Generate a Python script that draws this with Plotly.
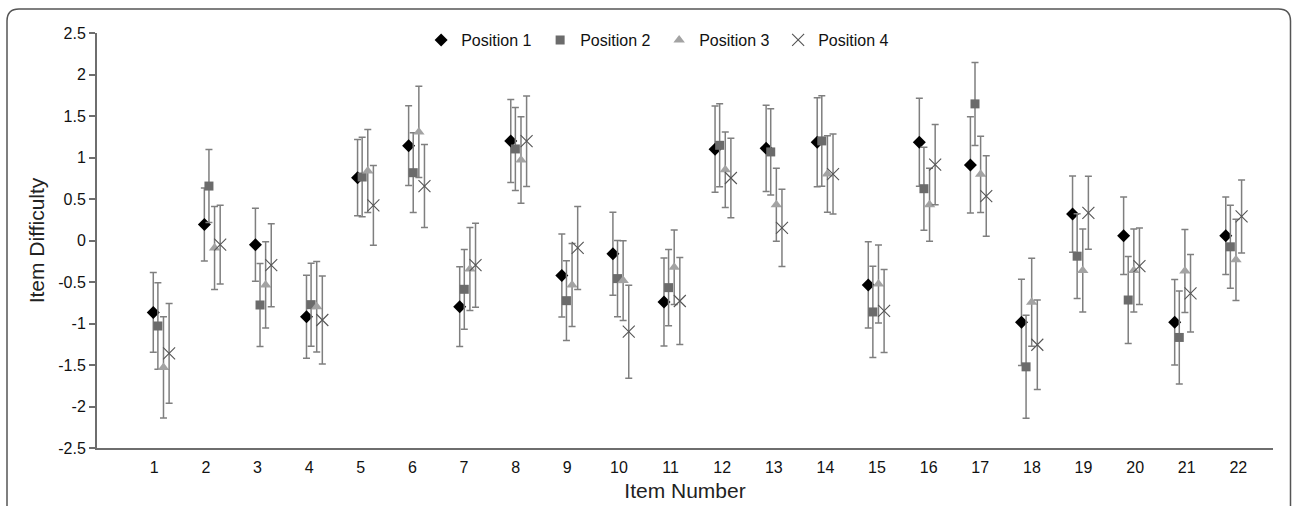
import plotly.graph_objects as go

# ---------------- data ----------------
items = list(range(1, 23))
x_ticktext = [str(i) for i in items]

y_tickvals = [2.5, 2, 1.5, 1, 0.5, 0, -0.5, -1, -1.5, -2, -2.5]
y_ticktext = ["2.5", "2", "1.5", "1", "0.5", "0", "-0.5", "-1", "-1.5", "-2", "-2.5"]

series_names = ["Position 1", "Position 2", "Position 3", "Position 4"]

pos1 = [-0.866, 0.193, -0.05, -0.918, 0.757, 1.143, -0.797, 1.2, -0.423, -0.161, -0.741,
        1.10, 1.111, 1.184, -0.535, 1.184, 0.91, -0.986, 0.318, 0.056, -0.986, 0.056]
pos1_err = [0.48, 0.44, 0.44, 0.5, 0.46, 0.48, 0.48, 0.5, 0.5, 0.5, 0.53,
            0.52, 0.52, 0.535, 0.52, 0.53, 0.58, 0.52, 0.46, 0.467, 0.515, 0.467]

pos2 = [-1.03, 0.656, -0.777, -0.773, 0.765, 0.817, -0.588, 1.103, -0.725, -0.459, -0.568,
        1.147, 1.067, 1.2, -0.861, 0.624, 1.646, -1.522, -0.189, -0.717, -1.168, -0.076]
pos2_err = [0.52, 0.44, 0.5, 0.5, 0.48, 0.48, 0.48, 0.5, 0.48, 0.46, 0.46,
            0.5, 0.52, 0.545, 0.55, 0.5, 0.5, 0.62, 0.51, 0.525, 0.56, 0.5]

pos3 = [-1.53, -0.09, -0.535, -0.797, 0.837, 1.308, -0.342, 0.97, -0.535, -0.483, -0.322,
        0.853, 0.431, 0.801, -0.523, 0.431, 0.797, -0.745, -0.362, -0.362, -0.366, -0.233]
pos3_err = [0.61, 0.5, 0.52, 0.545, 0.5, 0.55, 0.5, 0.52, 0.5, 0.48, 0.45,
            0.455, 0.44, 0.46, 0.47, 0.44, 0.46, 0.53, 0.5, 0.5, 0.5, 0.49]

pos4 = [-1.36, -0.05, -0.298, -0.958, 0.423, 0.656, -0.298, 1.196, -0.09, -1.099, -0.729,
        0.753, 0.153, 0.801, -0.849, 0.914, 0.535, -1.256, 0.334, -0.31, -0.636, 0.29]
pos4_err = [0.6, 0.475, 0.5, 0.53, 0.48, 0.5, 0.505, 0.545, 0.5, 0.56, 0.525,
            0.48, 0.465, 0.483, 0.5, 0.483, 0.485, 0.54, 0.44, 0.46, 0.467, 0.44]

# ---------------- styling ----------------
FONT = "Liberation Sans, Arial, sans-serif"
offsets = [0.0, 0.09, 0.2, 0.31]          # horizontal dodge of the 4 positions
label_stretch = 0.0108                    # category labels drift slightly vs. markers
label_shift = 0.02

styles = [
    dict(symbol="diamond", color="#000000", size=10, line=dict(width=0)),
    dict(symbol="square", color="#6b6b6b", size=9, line=dict(width=0)),
    dict(symbol="triangle-up", color="#a3a3a3", size=10, line=dict(width=0)),
    dict(symbol="x-thin-open", color="#555555", size=12, line=dict(width=1.1, color="#555555")),
]

values = [pos1, pos2, pos3, pos4]
errors = [pos1_err, pos2_err, pos3_err, pos4_err]

fig = go.Figure()
for name, vals, errs, off, st in zip(series_names, values, errors, offsets, styles):
    fig.add_trace(go.Scatter(
        x=[i + off for i in items],
        y=vals,
        mode="markers",
        name=name,
        marker=st,
        error_y=dict(type="data", array=errs, visible=True,
                     color="#7f7f7f", thickness=1.5, width=3.5),
    ))

tickvals = [i + label_shift + (i - 1) * label_stretch for i in items]

W, H = 1292, 506
ml, mr, mt, mb = 97, 19, 33, 58
pw, ph = W - ml - mr, H - mt - mb


def px(xp):
    return (xp - ml) / pw


def py(yp):
    return (H - mb - yp) / ph


# rounded frame around the whole picture
L, T, R, B = 7, 9, 1290.5, 520
rx, ry = 12 / pw, 12 / ph
frame = (f"M {px(L)},{py(B)} L {px(L)},{py(T) - ry} Q {px(L)},{py(T)} {px(L) + rx},{py(T)} "
         f"L {px(R) - rx},{py(T)} Q {px(R)},{py(T)} {px(R)},{py(T) - ry} L {px(R)},{py(B)}")

fig.update_layout(
    width=W, height=H,
    margin=dict(l=ml, r=mr, t=mt, b=mb, autoexpand=False),
    paper_bgcolor="white", plot_bgcolor="white",
    font=dict(family=FONT, color="#111111"),
    showlegend=True,
    legend=dict(orientation="h", x=0.478, xanchor="center", y=0.983, yanchor="middle",
                font=dict(size=16, family=FONT, color="#111111"),
                bgcolor="rgba(0,0,0,0)", itemwidth=30, entrywidth=74, traceorder="normal"),
    xaxis=dict(range=[-0.102, 22.925], tickmode="array", tickvals=tickvals, ticktext=x_ticktext,
               automargin=False,
               showgrid=False, zeroline=False, showline=True, linecolor="#6e6e6e", linewidth=2,
               ticks="", tickfont=dict(size=16, family=FONT, color="#111111"),
               ticklabelstandoff=4,
               title=dict(text="Item Number", font=dict(size=21, family=FONT, color="#222222"),
                          standoff=8)),
    yaxis=dict(range=[-2.5, 2.5], tickmode="array", tickvals=y_tickvals, ticktext=y_ticktext,
               automargin=False,
               showgrid=False, zeroline=False, showline=True, linecolor="#6e6e6e", linewidth=2,
               ticks="outside", ticklen=6, tickwidth=1.5, tickcolor="#6e6e6e",
               tickfont=dict(size=16, family=FONT, color="#111111"), ticklabelstandoff=0,
               title=dict(text="Item Difficulty", font=dict(size=21, family=FONT, color="#222222"),
                          standoff=8)),
    shapes=[dict(type="path", xref="paper", yref="paper", path=frame,
                 line=dict(color="#555555", width=1.5), layer="above")],
)

fig.write_html("out.html",
               config={"displayModeBar": False},
               post_script="document.body.style.margin='0px';document.body.style.overflow='hidden';")
